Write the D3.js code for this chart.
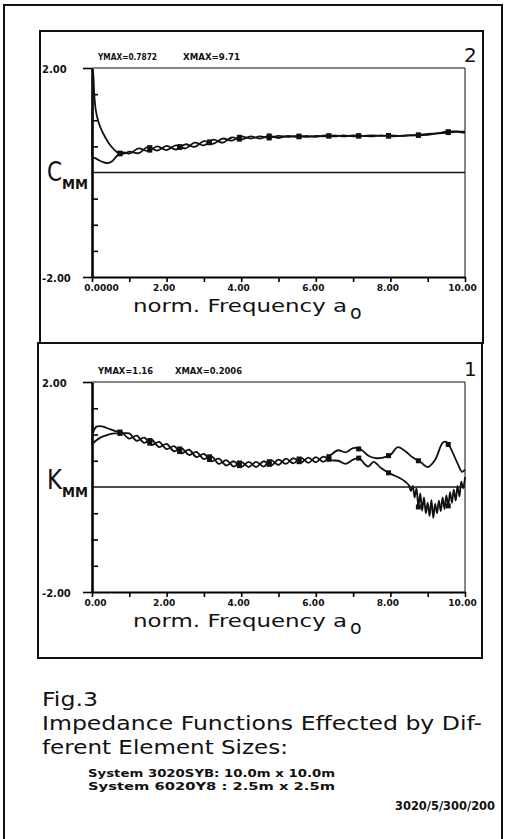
<!DOCTYPE html>
<html>
<head>
<meta charset="utf-8">
<script src="https://cdn.jsdelivr.net/npm/d3@7"></script>
<style>
  body { margin: 0; background: #fff; }
  svg { display: block; }
  .num { font-family: "DejaVu Sans", sans-serif; font-weight: bold; fill: #111; }
  .plot { font-family: "DejaVu Sans", sans-serif; fill: #111; }
  .curve { fill: none; stroke: #111; stroke-width: 1.8; stroke-linejoin: round; }
</style>
</head>
<body>
<script>
// tick values
const xTicks = [0, 1, 2, 3, 4, 5, 6, 7, 8, 9, 10];
const yMajorTicks = [-2, 2];
const yMinorTicks = [-1.5, -1, -0.5, 0.5, 1, 1.5];
// x positions of the square symbols on the curves
const markerX = [0.75, 1.55, 2.35, 3.15, 3.95, 4.75, 5.55, 6.35, 7.15, 7.95, 8.75, 9.55];

// C_MM (panel 2) - two systems
const cmmA = [[0,0.30],[0.03,1.95],[0.06,1.5],[0.1,1.2],[0.16,1.0],[0.25,0.82],[0.35,0.68],[0.45,0.56],
  [0.55,0.47],[0.67,0.39],[0.8,0.36],[0.9,0.37],[1.0,0.40],[1.25,0.37],[1.5,0.49],[1.75,0.42],[2.0,0.51],
  [2.25,0.44],[2.5,0.54],[2.75,0.49],[3.0,0.60],[3.25,0.55],[3.5,0.65],[3.75,0.61],[4.0,0.69],[4.25,0.65],
  [4.5,0.69],[4.75,0.66],[5.0,0.70],[5.25,0.68],[5.5,0.70],[5.75,0.68],[6.0,0.70],[6.25,0.69],[6.5,0.71],
  [6.75,0.69],[7.0,0.71],[7.25,0.70],[7.5,0.71],[7.75,0.70],[8.0,0.71],[8.25,0.70],[8.5,0.71],[8.75,0.72],
  [9.0,0.74],[9.25,0.75],[9.5,0.78],[9.71,0.787],[10.0,0.78]];
const cmmB = [[0,0.30],[0.1,0.27],[0.2,0.23],[0.3,0.20],[0.43,0.18],[0.55,0.22],[0.67,0.32],[0.8,0.38],
  [0.9,0.38],[1.0,0.36],[1.25,0.46],[1.5,0.41],[1.75,0.50],[2.0,0.43],[2.25,0.52],[2.5,0.46],[2.75,0.57],
  [3.0,0.52],[3.25,0.63],[3.5,0.57],[3.75,0.67],[4.0,0.63],[4.25,0.69],[4.5,0.65],[4.75,0.70],[5.0,0.66],
  [5.25,0.70],[5.5,0.68],[5.75,0.70],[6.0,0.68],[6.25,0.71],[6.5,0.69],[6.75,0.71],[7.0,0.69],[7.25,0.70],
  [7.5,0.69],[7.75,0.71],[8.0,0.69],[8.25,0.70],[8.5,0.71],[8.75,0.71],[9.0,0.72],[9.25,0.75],[9.5,0.76],
  [9.75,0.78],[10.0,0.76]];

// K_MM (panel 1) - two systems
const kmmA = [[0,0.90],[0.05,1.08],[0.12,1.15],[0.2,1.16],[0.3,1.15],[0.45,1.11],[0.6,1.07],[0.8,1.04],
  [1.0,0.92],[1.2,0.98],[1.4,0.84],[1.6,0.90],[1.8,0.76],[2.0,0.82],[2.2,0.68],[2.4,0.74],[2.6,0.61],
  [2.8,0.67],[3.0,0.53],[3.2,0.59],[3.4,0.44],[3.6,0.51],[3.8,0.39],[4.0,0.48],[4.2,0.38],[4.4,0.48],
  [4.6,0.39],[4.8,0.51],[5.0,0.42],[5.2,0.54],[5.4,0.45],[5.6,0.56],[5.8,0.46],[6.0,0.57],[6.2,0.48],
  [6.4,0.61],[6.6,0.70],[6.8,0.66],[7.0,0.74],[7.2,0.72],[7.4,0.60],[7.6,0.55],[7.8,0.56],[8.0,0.61],
  [8.2,0.76],[8.4,0.68],[8.6,0.56],[8.8,0.48],[9.0,0.38],[9.2,0.52],[9.4,0.84],[9.5,0.86],[9.6,0.76],
  [9.8,0.45],[9.92,0.29],[10.0,0.33]];
const kmmB = [[0,0.80],[0.1,0.88],[0.25,0.95],[0.4,0.99],[0.6,1.02],[0.8,1.02],[1.0,1.02],[1.2,0.88],
  [1.4,0.94],[1.6,0.80],[1.8,0.86],[2.0,0.72],[2.2,0.78],[2.4,0.64],[2.6,0.71],[2.8,0.57],[3.0,0.63],
  [3.2,0.49],[3.4,0.54],[3.6,0.41],[3.8,0.49],[4.0,0.38],[4.2,0.48],[4.4,0.38],[4.6,0.49],[4.8,0.41],
  [5.0,0.52],[5.2,0.44],[5.4,0.55],[5.6,0.46],[5.8,0.56],[6.0,0.47],[6.2,0.58],[6.4,0.51],[6.6,0.50],
  [6.8,0.44],[7.0,0.52],[7.15,0.55],[7.4,0.39],[7.55,0.48],[7.75,0.36],[7.95,0.27],[8.1,0.22],[8.25,0.17],
  [8.4,0.10],[8.5,0.03],[8.55,-0.08],[8.6,0.02],[8.65,-0.20],[8.7,-0.02],[8.75,-0.38],[8.8,-0.12],
  [8.85,-0.45],[8.9,-0.20],[8.95,-0.50],[9.0,-0.30],[9.05,-0.55],[9.1,-0.25],[9.15,-0.59],[9.2,-0.32],
  [9.25,-0.50],[9.3,-0.26],[9.35,-0.46],[9.4,-0.20],[9.45,-0.42],[9.5,-0.16],[9.55,-0.36],[9.6,-0.10],
  [9.65,-0.30],[9.7,-0.05],[9.75,-0.26],[9.8,0.02],[9.85,-0.18],[9.9,0.10],[9.95,-0.02],[10.0,0.19]];

const svg = d3.select("body").append("svg")
  .attr("width", 507)
  .attr("height", 839);

// outer frame (bottom edge lies below the page)
svg.append("path")
  .attr("d", "M4,839V5H502V839")
  .attr("fill", "none").attr("stroke", "#111").attr("stroke-width", 2);

// value of a series at x (for placing the symbols on the line)
function valueAt(series, xv) {
  const i = d3.bisector(d => d[0]).left(series, xv);
  if (i <= 0) return series[0][1];
  const a = series[i - 1], b = series[i];
  return d3.interpolateNumber(a[1], b[1])((xv - a[0]) / (b[0] - a[0]));
}

function yFmt(d) {
  return (d < 0 ? "-" : "") + Math.abs(d).toFixed(2);
}

function drawPanel(p) {
  let x = d3.scaleLinear().domain([0, 10]).range([92, 465]);
  let y = d3.scaleLinear().domain([-2, 2]).range([p.yBottom, p.yTop]);

  // panel box
  svg.append("rect")
    .attr("x", p.box[0]).attr("y", p.box[1])
    .attr("width", p.box[2] - p.box[0]).attr("height", p.box[3] - p.box[1])
    .attr("fill", "none").attr("stroke", "#111").attr("stroke-width", 2);

  // thin top and right border of the plot
  svg.append("path")
    .attr("d", "M" + x(0) + "," + y(2) + "H" + x(10) + "V" + y(-2))
    .attr("fill", "none").attr("stroke", "#111").attr("stroke-width", 1);

  // x axis
  let xa = svg.append("g")
    .attr("transform", "translate(0," + y(-2) + ")")
    .call(d3.axisBottom(x)
      .tickValues(xTicks)
      .tickSize(5)
      .tickSizeOuter(0)
      .tickPadding(3)
      .tickFormat(d => d === 0 ? p.firstLabel : d.toFixed(2)));
  xa.select(".domain").attr("stroke-width", 2.2);
  xa.selectAll(".tick line").attr("stroke-width", 1.6);
  xa.selectAll(".tick text").filter(d => d % 2).remove();
  xa.selectAll("text").attr("class", "num").attr("font-size", 9).attr("font-family", null)
    .attr("dx", d => d === 0 ? (p.firstLabel.length > 4 ? 9 : 3) : -3);

  // y axis, labelled ends
  let ya = svg.append("g")
    .attr("transform", "translate(" + x(0) + ",0)")
    .call(d3.axisLeft(y)
      .tickValues(yMajorTicks)
      .tickSize(9)
      .tickSizeOuter(0)
      .tickFormat(yFmt));
  ya.select(".domain").attr("stroke-width", 2.6);
  ya.selectAll(".tick line").attr("stroke-width", 1.6);
  ya.selectAll("text").attr("class", "num").attr("font-size", 10).attr("font-family", null)
    .attr("x", 42 - x(0)).attr("text-anchor", "start").attr("dy", "0.4em");

  // y axis, inner minor ticks
  let ym = svg.append("g")
    .attr("transform", "translate(" + x(0) + ",0)")
    .call(d3.axisLeft(y).tickValues(yMinorTicks).tickSize(-6).tickFormat(""));
  ym.select(".domain").remove();
  ym.selectAll(".tick text").remove();
  ym.selectAll(".tick line").attr("stroke-width", 1.6);

  // zero line
  svg.append("line")
    .attr("x1", x(0)).attr("x2", x(10))
    .attr("y1", y(0)).attr("y2", y(0))
    .attr("stroke", "#111").attr("stroke-width", 1.6);

  let line = d3.line()
    .x(d => x(d[0]))
    .y(d => y(d[1]))
    .curve(d3.curveCatmullRom.alpha(0.5));

  p.series.forEach(function(s) {
    svg.append("path").datum(s).attr("class", "curve").attr("d", line);
    svg.selectAll(null)
      .data(markerX)
      .enter().append("rect")
      .attr("x", d => x(d) - 2.5)
      .attr("y", d => y(valueAt(s, d)) - 2.5)
      .attr("width", 5).attr("height", 5)
      .attr("fill", "#111");
  });

  // header
  svg.append("text").attr("class", "num").attr("font-size", 9)
    .attr("x", 98).attr("y", p.yTop - 8)
    .attr("textLength", p.ymaxLen).attr("lengthAdjust", "spacingAndGlyphs")
    .text(p.ymax);
  svg.append("text").attr("class", "num").attr("font-size", 9)
    .attr("x", p.xmaxX).attr("y", p.yTop - 8)
    .attr("textLength", p.xmaxLen).attr("lengthAdjust", "spacingAndGlyphs")
    .text(p.xmax);
  svg.append("text").attr("class", "plot").attr("font-size", 20)
    .attr("x", 464).attr("y", p.yTop - 6)
    .text(p.index);

  // y label
  svg.append("text").attr("class", "plot").attr("font-size", 26)
    .attr("x", 47).attr("y", y(0) + p.letterDy)
    .attr("textLength", 15).attr("lengthAdjust", "spacingAndGlyphs")
    .text(p.yLetter);
  svg.append("text").attr("class", "num").attr("font-size", 14)
    .attr("x", 62).attr("y", y(0) + p.letterDy + 8)
    .attr("textLength", 26).attr("lengthAdjust", "spacingAndGlyphs")
    .text("MM");

  // x title
  svg.append("text").attr("class", "plot").attr("font-size", 18.5)
    .attr("x", 133).attr("y", y(-2) + 35)
    .attr("textLength", 214).attr("lengthAdjust", "spacingAndGlyphs")
    .text("norm. Frequency a");
  svg.append("text").attr("class", "plot").attr("font-size", 19)
    .attr("x", 350).attr("y", y(-2) + 42)
    .text("o");
}

drawPanel({
  box: [40, 31, 483, 343], yTop: 68, yBottom: 277,
  series: [cmmA, cmmB], index: "2", yLetter: "C", letterDy: 8, firstLabel: "0.0000",
  ymax: "YMAX=0.7872", ymaxLen: 59, xmax: "XMAX=9.71", xmaxX: 183, xmaxLen: 57
});
drawPanel({
  box: [38, 343, 482, 658], yTop: 382, yBottom: 592,
  series: [kmmA, kmmB], index: "1", yLetter: "K", letterDy: 2, firstLabel: "0.00",
  ymax: "YMAX=1.16", ymaxLen: 55, xmax: "XMAX=0.2006", xmaxX: 175, xmaxLen: 67
});

// caption
let cap = svg.append("g").attr("class", "plot");
cap.append("text").attr("font-size", 20).attr("x", 42).attr("y", 706)
  .attr("textLength", 56).attr("lengthAdjust", "spacingAndGlyphs").text("Fig.3");
cap.append("text").attr("font-size", 19).attr("x", 42).attr("y", 730)
  .attr("textLength", 440).attr("lengthAdjust", "spacingAndGlyphs")
  .text("Impedance Functions Effected by Dif-");
cap.append("text").attr("font-size", 19).attr("x", 42).attr("y", 754)
  .attr("textLength", 246).attr("lengthAdjust", "spacingAndGlyphs")
  .text("ferent Element Sizes:");

let sys = svg.append("g").attr("class", "num").style("white-space", "pre");
sys.append("text").attr("font-size", 11).attr("x", 88).attr("y", 777)
  .attr("textLength", 247).attr("lengthAdjust", "spacingAndGlyphs")
  .text("System 3020SYB: 10.0m x 10.0m");
sys.append("text").attr("font-size", 11).attr("x", 88).attr("y", 790)
  .attr("textLength", 247).attr("lengthAdjust", "spacingAndGlyphs")
  .text("System 6020Y8 :  2.5m x  2.5m");
sys.append("text").attr("font-size", 12).attr("x", 395).attr("y", 810)
  .attr("textLength", 100).attr("lengthAdjust", "spacingAndGlyphs")
  .text("3020/5/300/200");
</script>
</body>
</html>
